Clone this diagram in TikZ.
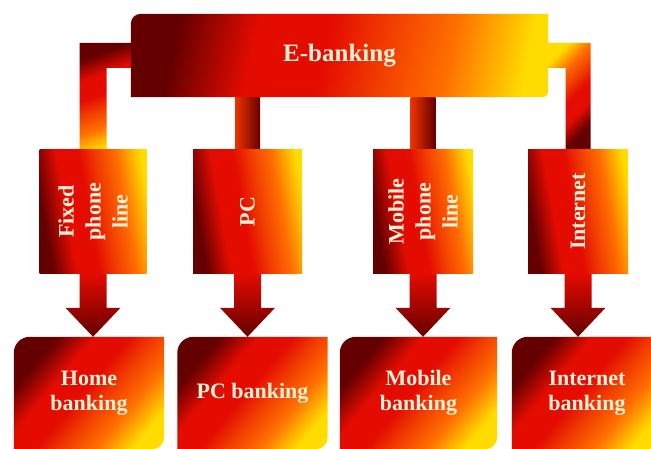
\documentclass[tikz,border=0pt]{standalone}
\usepackage{fontspec}
\setmainfont{Liberation Serif}
\usetikzlibrary{positioning, calc}

\definecolor{fdark}{RGB}{100,0,0}
\definecolor{fred}{RGB}{228,12,0}
\definecolor{forange}{RGB}{255,110,0}
\definecolor{fyellow}{RGB}{255,220,0}
\definecolor{cream}{RGB}{255,240,218}

\pgfdeclarehorizontalshading{fire}{100bp}{color(0bp)=(fdark); color(27bp)=(fdark); color(38bp)=(fred); color(48bp)=(fred); color(56bp)=(fred!50!forange); color(65bp)=(forange); color(76bp)=(fyellow); color(100bp)=(fyellow)}

\pgfdeclarelayer{bars}
\pgfdeclarelayer{boxes}
\pgfsetlayers{bars,boxes,main}

\tikzset{
  firefill/.style={shade, shading=fire, shading angle=#1},
  ebox/.style={minimum width=417pt, minimum height=83pt, inner sep=0pt, text=cream, font=\bfseries\fontsize{25}{28}\selectfont},
  chanbox/.style={rectangle, minimum height=123pt, inner sep=0pt, firefill=10},
  chantext/.style={rotate=90, align=center, text=cream, font=\bfseries\fontsize{22}{27}\selectfont},
  bankbox/.style={minimum width=150pt, minimum height=112pt, inner sep=0pt, align=center, text=cream, font=\bfseries\fontsize{22}{25}\selectfont},
}

\begin{document}
\begin{tikzpicture}[x=1pt, y=1pt]
\useasboundingbox (0,0) rectangle (651,448);

% E-banking
\node[ebox] (ebank) at (339.5,392.5) {E-banking};

% Channels
\node[chanbox, minimum width=107pt] (fixed) at (93,236.5) {};
\node[chanbox, minimum width=109pt] (pc) at (247.5,236.5) {};
\node[chanbox, minimum width=100pt] (mobile) at (423,236.5) {};
\node[chanbox, minimum width=100pt] (internet) at (578,236.5) {};
\node[chantext] (fixedtxt) at (fixed) {Fixed\\phone\\line};
\node[chantext] (pctxt) at (pc) {PC};
\node[chantext] (mobiletxt) at (mobile) {Mobile\\phone\\line};
\node[chantext] (internettxt) at (internet) {Internet};

% Banking
\node[bankbox] (home) at (89,55) {Home\\banking};
\node[bankbox] (pcbank) at (252.5,55) {PC banking};
\node[bankbox, minimum width=157pt] (mobbank) at (418.5,55) {Mobile\\banking};
\node[bankbox] (netbank) at (587,55) {Internet\\banking};

\begin{pgfonlayer}{boxes}
\path[firefill=-12] (ebank.south west) -- ([yshift=-10pt]ebank.north west)
  arc[start angle=180, end angle=90, radius=10pt] -- (ebank.north east)
  -- ([yshift=6pt]ebank.south east) arc[start angle=0, end angle=-90, radius=6pt] -- cycle;
\foreach \b in {home, pcbank, mobbank, netbank}
  \path[firefill=-40] (\b.south west) -- ([yshift=-16pt]\b.north west)
    arc[start angle=180, end angle=90, radius=16pt] -- (\b.north east)
    -- ([yshift=12pt]\b.south east) arc[start angle=0, end angle=-90, radius=12pt] -- cycle;
\end{pgfonlayer}

% Links
\begin{pgfonlayer}{bars}
\fill[white] (0,0) rectangle (651,448);
\path[firefill=-70] ([xshift=-13.5pt]fixed.north) |- ([yshift=12.5pt]ebank.west)
  -- ([yshift=-12.5pt]ebank.west) -| ([xshift=13.5pt]fixed.north) -- cycle;
\path[firefill=135] ([xshift=-12.5pt]internet.north) |- ([yshift=-12.5pt]ebank.east)
  -- ([yshift=12.5pt]ebank.east) -| ([xshift=12.5pt]internet.north) -- cycle;
\foreach \c in {pc, mobile}
  \shade[left color=fred!60!forange, middle color=fred, right color=fdark]
    ([xshift=-12.5pt]\c.north) rectangle ([xshift=12.5pt]\c.north |- ebank.south);
% Arrows
\foreach \t/\b in {fixed/home, pc/pcbank, mobile/mobbank, internet/netbank}
  \shade[top color=fred, bottom color=fdark]
    ([xshift=-13.5pt]\t.south) -- ([xshift=-13.5pt,yshift=29pt]\t.south |- \b.north)
    -- ([xshift=-27.5pt,yshift=29pt]\t.south |- \b.north) -- (\t.south |- \b.north)
    -- ([xshift=27.5pt,yshift=29pt]\t.south |- \b.north)
    -- ([xshift=13.5pt,yshift=29pt]\t.south |- \b.north) -- ([xshift=13.5pt]\t.south) -- cycle;
\end{pgfonlayer}
\end{tikzpicture}
\end{document}
